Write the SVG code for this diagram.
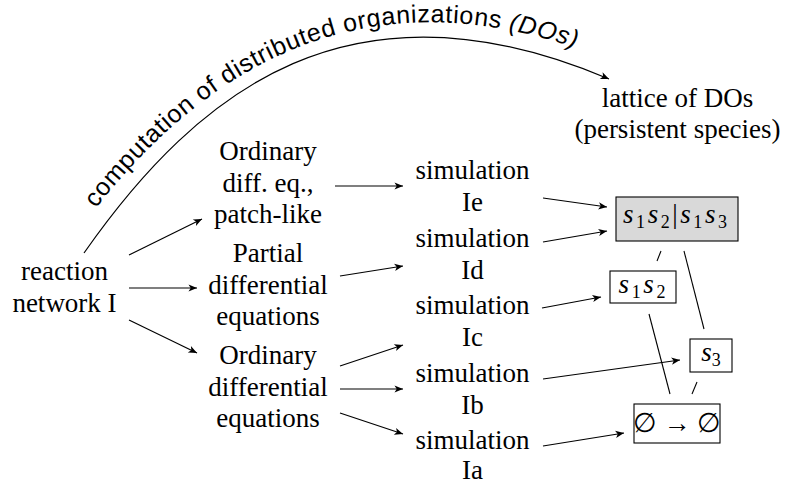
<svg xmlns="http://www.w3.org/2000/svg" width="787" height="484" viewBox="0 0 787 484">
<style>
.t{font-family:'Liberation Serif',serif;font-size:27px;fill:#000;text-anchor:middle}
.m{font-family:'Liberation Serif',serif;font-size:27px;fill:#000;text-anchor:middle}
.it{font-style:italic}
.sub{font-size:18px;font-style:normal}
.cl{font-family:'Liberation Sans',sans-serif;font-size:25px;fill:#000}
.c{fill:none;stroke:#000;stroke-width:1.2}
.ar{marker-end:url(#ah)}
.l{fill:none;stroke:#000;stroke-width:1.1}
.box{fill:#fff;stroke:#000;stroke-width:1.1}
.gbox{fill:#d9d9d9;stroke:#000;stroke-width:1.1}
</style>
<defs>
<marker id="ah" markerUnits="userSpaceOnUse" markerWidth="12" markerHeight="10" viewBox="-10 -5 12 10" refX="0" refY="0" orient="auto">
<path d="M0,0 L-8.5,-3.6 L-6.3,0 L-8.5,3.6 Z" fill="#000"/>
</marker>
<path id="tp" d="M70.1,243.2 C184.9,79.4 358,-45.8 615.6,63.4" fill="none"/>
</defs>

<g id="connectors">
<path class="c ar" d="M84,253 C198.8,89.2 351.4,-30.2 609,79"/>
<line class="c ar" x1="129" y1="255" x2="202" y2="219"/>
<line class="c ar" x1="129" y1="288" x2="197" y2="288"/>
<line class="c ar" x1="129" y1="320" x2="197" y2="353"/>
<line class="c ar" x1="335" y1="186" x2="403" y2="186"/>
<line class="c ar" x1="340" y1="276" x2="403" y2="266"/>
<line class="c ar" x1="340" y1="366" x2="403" y2="345"/>
<line class="c ar" x1="340" y1="389" x2="403" y2="389"/>
<line class="c ar" x1="340" y1="413" x2="403" y2="434"/>
<line class="c ar" x1="543" y1="198" x2="607" y2="207"/>
<line class="c ar" x1="543" y1="242" x2="607" y2="231"/>
<line class="c ar" x1="542" y1="308" x2="601" y2="297"/>
<line class="c ar" x1="543" y1="379" x2="680" y2="360"/>
<line class="c ar" x1="543" y1="446" x2="624" y2="433"/>
<line class="l" x1="661" y1="251" x2="657" y2="261"/>
<line class="l" x1="684" y1="251" x2="704" y2="329"/>
<line class="l" x1="649" y1="314" x2="670" y2="394"/>
<line class="l" x1="697" y1="382" x2="692" y2="394" stroke-width="2.2"/>
</g>

<g id="curve-label">
<text class="cl"><textPath href="#tp" startOffset="43" textLength="545" lengthAdjust="spacing">computation of distributed organizations <tspan font-style="italic">(DOs)</tspan></textPath></text>
</g>

<g id="reaction">
<text class="t" x="64.5" y="280">reaction</text>
<text class="t" x="64.5" y="312">network I</text>
</g>

<g id="ode-patch">
<text class="t" x="268" y="160">Ordinary</text>
<text class="t" x="268" y="191.5">diff. eq.,</text>
<text class="t" x="268" y="223">patch-like</text>
</g>

<g id="pde">
<text class="t" x="268" y="262">Partial</text>
<text class="t" x="268" y="293.5">differential</text>
<text class="t" x="268" y="325">equations</text>
</g>

<g id="ode">
<text class="t" x="268" y="364">Ordinary</text>
<text class="t" x="268" y="395.5">differential</text>
<text class="t" x="268" y="427">equations</text>
</g>

<g id="simIe">
<text class="t" x="472.5" y="179">simulation</text>
<text class="t" x="472.5" y="211">Ie</text>
</g>
<g id="simId">
<text class="t" x="472.5" y="246.5">simulation</text>
<text class="t" x="472.5" y="278.5">Id</text>
</g>
<g id="simIc">
<text class="t" x="472.5" y="314">simulation</text>
<text class="t" x="472.5" y="346">Ic</text>
</g>
<g id="simIb">
<text class="t" x="472.5" y="381.5">simulation</text>
<text class="t" x="472.5" y="413.5">Ib</text>
</g>
<g id="simIa">
<text class="t" x="472.5" y="448.5">simulation</text>
<text class="t" x="472.5" y="479">Ia</text>
</g>

<g id="lattice">
<text class="t" x="677.5" y="107">lattice of DOs</text>
<text class="t" x="677.5" y="138">(persistent species)</text>
</g>

<g id="do-s1s2-s1s3">
<rect class="gbox" x="616" y="197" width="122" height="44"/>
<text class="m" x="675" y="223" textLength="104" lengthAdjust="spacing"><tspan class="it">s</tspan><tspan class="sub" dy="5">1</tspan><tspan class="it" dy="-5">s</tspan><tspan class="sub" dy="5">2</tspan><tspan dy="-5">|</tspan><tspan class="it">s</tspan><tspan class="sub" dy="5">1</tspan><tspan class="it" dy="-5">s</tspan><tspan class="sub" dy="5">3</tspan></text>
</g>

<g id="do-s1s2">
<rect class="box" x="610" y="271" width="66" height="32"/>
<text class="m" x="642" y="293" textLength="47" lengthAdjust="spacing"><tspan class="it">s</tspan><tspan class="sub" dy="5">1</tspan><tspan class="it" dy="-5">s</tspan><tspan class="sub" dy="5">2</tspan></text>
</g>

<g id="do-s3">
<rect class="box" x="690" y="339" width="42" height="33"/>
<text class="m" x="711" y="361"><tspan class="it">s</tspan><tspan class="sub" dy="5">3</tspan></text>
</g>

<g id="do-empty">
<rect class="box" x="634" y="404" width="86" height="39"/>
<text class="m" x="677" y="432">∅ → ∅</text>
</g>
</svg>
